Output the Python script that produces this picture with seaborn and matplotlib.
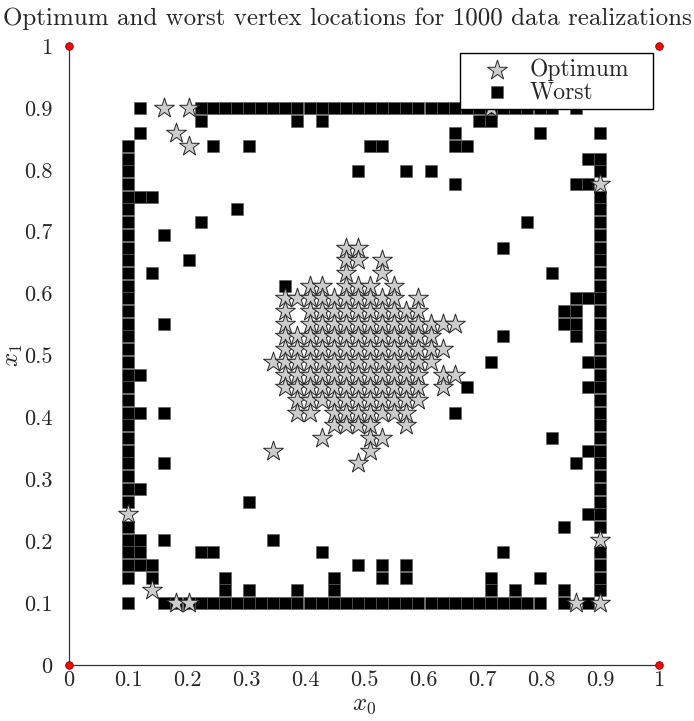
import numpy as np
import pandas as pd
import seaborn as sns
import matplotlib
matplotlib.use('Agg')
import matplotlib.pyplot as plt

# sampling lattice used by the vertices (40 points between 0.1 and 0.9)
grid = np.linspace(0.1, 0.9, 40)

# worst vertices, as lattice indices (column i, row j)
worst_left_rows = [0, 2, 3, 4, 5, 6, 8, 9, 10, 11, 12, 13, 14, 15, 16, 17, 18, 19, 20,
                   21, 22, 23, 24, 25, 26, 27, 28, 29, 30, 31, 32, 33, 34, 35, 36]
worst_right_rows = [1, 2, 3, 4, 6, 7, 8, 9, 10, 11, 12, 13, 14, 15, 16, 17, 18, 19, 20,
                    21, 22, 23, 24, 25, 26, 27, 28, 29, 30, 31, 32, 34, 35, 37]
worst_bottom_cols = [3, 4, 5, 6, 7, 8, 9, 10, 11, 12, 13, 14, 15, 16, 17, 18, 19, 20,
                     21, 22, 23, 24, 25, 26, 27, 28, 29, 30, 31, 32, 33, 34, 36, 38]
worst_top_cols = [1, 6, 7, 8, 9, 10, 11, 12, 13, 14, 15, 16, 17, 18, 19, 20, 21, 22,
                  23, 24, 25, 26, 27, 28, 29, 30, 31, 32, 33, 34, 35, 37]
worst_inner = [(6, 38), (14, 38), (16, 38), (29, 38), (30, 38),
               (1, 37), (27, 37), (34, 37),
               (7, 36), (10, 36), (20, 36), (21, 36), (27, 36), (28, 36),
               (38, 35),
               (19, 34), (23, 34), (25, 34),
               (27, 33), (37, 33), (38, 33),
               (1, 32), (2, 32), (9, 31), (6, 30), (33, 30), (3, 29), (31, 28), (5, 27),
               (2, 26), (35, 26), (13, 25), (37, 24), (38, 24), (36, 23), (37, 23),
               (3, 22), (36, 22), (37, 22), (31, 21), (37, 21), (30, 19), (38, 19),
               (1, 18), (28, 17), (38, 17), (1, 15), (3, 15), (27, 15), (35, 13),
               (38, 12), (3, 11), (37, 11), (1, 9), (10, 8), (38, 7), (36, 6),
               (1, 5), (3, 5), (12, 5),
               (1, 4), (6, 4), (7, 4), (16, 4), (31, 4),
               (1, 3), (2, 3), (19, 3), (21, 3), (23, 3),
               (2, 2), (8, 2), (17, 2), (21, 2), (23, 2), (30, 2), (34, 2),
               (8, 1), (10, 1), (14, 1), (17, 1), (30, 1), (32, 1), (36, 1)]

# optimum vertices: row j -> columns i
opt_rows = {
    39: [3, 5, 30],
    37: [4],
    36: [5],
    33: [39],
    28: [18, 19],
    27: [18, 19, 21],
    26: [18, 21],
    25: [15, 16, 18, 19, 20, 22],
    24: [13, 14, 15, 16, 17, 18, 19, 20, 21, 22, 24],
    23: [13, 15, 16, 17, 18, 19, 20, 21, 22, 23, 24],
    22: [13, 15, 16, 17, 18, 19, 20, 21, 22, 23, 24, 25, 26, 27],
    21: [13, 14, 15, 16, 17, 18, 19, 20, 21, 22, 23, 24, 25],
    20: [13, 14, 15, 16, 17, 18, 19, 20, 21, 22, 23, 24, 25, 26],
    19: [12, 13, 14, 15, 16, 17, 18, 19, 20, 21, 22, 23, 24, 25],
    18: [13, 14, 15, 16, 17, 18, 19, 20, 21, 22, 23, 24, 26, 27],
    17: [13, 14, 15, 16, 17, 18, 19, 20, 21, 22, 23, 24, 26],
    16: [14, 15, 16, 17, 18, 19, 20, 21, 22, 23, 24],
    15: [14, 15, 17, 18, 19, 20, 21, 22, 23],
    14: [17, 18, 19, 20, 23],
    13: [16, 20, 21],
    12: [12, 20],
    11: [19],
    7: [0],
    5: [39],
    1: [2],
    0: [4, 5, 37, 39],
}

corner_x = [0, 1, 0, 1]
corner_y = [0, 0, 1, 1]
tick_vals = [0, 0.1, 0.2, 0.3, 0.4, 0.5, 0.6, 0.7, 0.8, 0.9, 1]
tick_labels = ['0', '0.1', '0.2', '0.3', '0.4', '0.5', '0.6', '0.7', '0.8', '0.9', '1']

# build the point tables
worst_idx = ([(0, j) for j in worst_left_rows] + [(39, j) for j in worst_right_rows]
             + [(i, 0) for i in worst_bottom_cols] + [(i, 39) for i in worst_top_cols]
             + worst_inner)
worst = pd.DataFrame({'x0': [grid[i] for i, j in worst_idx],
                      'x1': [grid[j] for i, j in worst_idx]})
opt_idx = [(i, j) for j, cols in opt_rows.items() for i in cols]
opt = pd.DataFrame({'x0': [grid[i] for i, j in opt_idx],
                    'x1': [grid[j] for i, j in opt_idx]})

sns.set_style('white')
plt.rcParams['font.family'] = ['cmr10', 'DejaVu Serif']
plt.rcParams['mathtext.fontset'] = 'cm'
plt.rcParams['axes.unicode_minus'] = False

fig = plt.figure(figsize=(6.94, 7.21), dpi=100)
ax = fig.add_axes([0.0994, 0.0777, 0.8502, 0.8585])

sns.scatterplot(data=worst, x='x0', y='x1', marker='s', s=75, color='black',
                edgecolor='0.35', linewidth=0.4, label='Worst', ax=ax, zorder=2)
sns.scatterplot(data=opt, x='x0', y='x1', marker='*', s=225, color='#cccccc',
                edgecolor='0.15', linewidth=0.7, label='Optimum', ax=ax, zorder=3)
ax.scatter(corner_x, corner_y, s=30, color='red', edgecolor='#800000',
           linewidth=0.6, zorder=5, clip_on=False)

ax.set_xlim(0, 1)
ax.set_ylim(0, 1)
ax.set_xticks(tick_vals)
ax.set_xticklabels(tick_labels)
ax.set_yticks(tick_vals)
ax.set_yticklabels(tick_labels)
ax.tick_params(direction='in', length=5, width=0.8, labelsize=16, color='0.3')
ax.tick_params(axis='x', pad=4)
ax.tick_params(axis='y', pad=12)
for side in ['top', 'right']:
    ax.spines[side].set_visible(False)
for side in ['left', 'bottom']:
    ax.spines[side].set_color('0.2')
    ax.spines[side].set_linewidth(0.9)

ax.set_xlabel('$x_0$', fontsize=18, labelpad=3)
ax.set_ylabel('$x_1$', fontsize=18, labelpad=-1)
fig.suptitle('Optimum and worst vertex locations for 1000 data realizations',
             x=0.5, y=0.99, fontsize=18)

handles, labels = ax.get_legend_handles_labels()
leg = ax.legend(handles[::-1], labels[::-1], loc='upper left',
                bbox_to_anchor=(0.663, 0.901, 0.327, 0.088), mode='expand',
                borderaxespad=0, fontsize=17, fancybox=False, framealpha=1,
                edgecolor='black', handletextpad=0.1, labelspacing=0.0,
                borderpad=0.25, handlelength=2.6)
leg.get_frame().set_linewidth(1.0)

fig.savefig('out.png', dpi=100)
